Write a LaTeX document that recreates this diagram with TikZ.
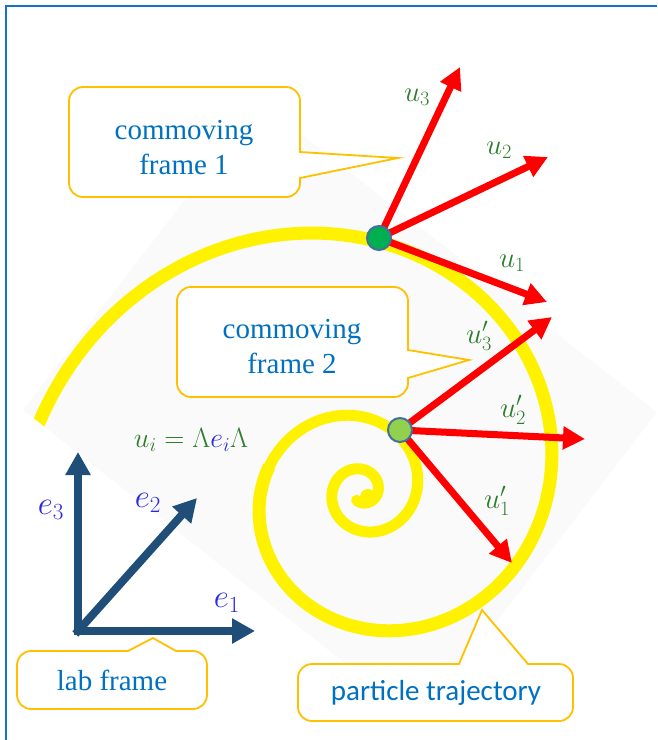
\RequirePackage{fix-cm}
\documentclass[tikz,border=0pt]{standalone}
\usepackage{fontspec}
\setmainfont{Liberation Serif}
\newfontfamily\calibri{Carlito}
\usetikzlibrary{arrows.meta}
\definecolor{callline}{RGB}{255,192,0}
\definecolor{calltext}{RGB}{0,112,192}
\definecolor{labblue}{RGB}{31,78,121}
\definecolor{eblue}{RGB}{40,40,225}
\definecolor{ugreen}{RGB}{45,125,45}
\definecolor{dotone}{RGB}{0,176,80}
\definecolor{dottwo}{RGB}{146,208,80}
\definecolor{dotrim}{RGB}{65,113,156}
\definecolor{pageblue}{RGB}{20,115,200}
\begin{document}
\begin{tikzpicture}[x=1pt,y=-1pt,
    callout/.style={draw=callline,line width=1.8pt,fill=white},
    calltxt/.style={text=calltext,align=center,font=\fontsize{29}{35}\selectfont},
    uarrow/.style={draw=red,line width=7pt,-{Triangle[length=22pt,width=22pt]}},
    earrow/.style={draw=labblue,line width=8pt,line cap=rect,-{Triangle[length=23pt,width=24pt]}},
    ulabel/.style={text=ugreen,font=\fontsize{29}{30}\selectfont},
    elabel/.style={text=eblue,font=\fontsize{33}{34}\selectfont},
    spiral/.style={draw=yellow,line width=13pt},
    framedot/.style={circle,draw=dotrim,line width=2pt,minimum size=24pt,inner sep=0pt}]
  \useasboundingbox (0,0) rectangle (657,740);
  % faint backdrop and page frame
  \fill[black!2] (260,102) -- (657,412) -- (420,722) -- (23,410) -- cycle;
  \draw[pageblue,line width=2.5pt] (657,6) -- (6,6) -- (6,740);
  % particle trajectory
  \begin{scope}
    \clip (-175,254) -- (817,1034) -- (817,-100) -- (-175,-100) -- cycle;
    \draw[spiral] plot[domain=176:-195,samples=120,smooth]
      ({362+330*exp(0.0034*(\x-168))*cos(\x)},{491-330*exp(0.0034*(\x-168))*sin(\x)});
    \draw[spiral,line width=11pt,line cap=round] plot[domain=-190:-840,samples=200,smooth]
      ({362+330*exp(0.0034*(\x-168))*cos(\x)},{491-330*exp(0.0034*(\x-168))*sin(\x)});
    \fill[yellow] (368,497) circle (8);
  \end{scope}
  % callouts
  \draw[callout] (69,142) [rounded corners=14pt] -- (69,87) -- (300,87)
    [sharp corners] -- (300,152) -- (398,158) -- (300,178)
    [rounded corners=14pt] -- (300,197) -- (69,197) -- cycle;
  \node[calltxt] (cm1) at (184,148) {commoving\\frame 1};
  \draw[callout] (177,342) [rounded corners=14pt] -- (177,287) -- (408,287)
    [sharp corners] -- (408,350) -- (469,360) -- (408,378)
    [rounded corners=14pt] -- (408,397) -- (177,397) -- cycle;
  \node[calltxt] (cm2) at (292,347) {commoving\\frame 2};
  \draw[callout] (17,680) [rounded corners=14pt] -- (17,651)
    [sharp corners] -- (128,651) -- (153,638) -- (176,651)
    [rounded corners=14pt] -- (207,651) -- (207,709) -- (17,709) -- cycle;
  \node[calltxt] (lab) at (112,680) {lab frame};
  \draw[callout] (298,692) [rounded corners=14pt] -- (298,664)
    [sharp corners] -- (459,664) -- (482,610) -- (528,664)
    [rounded corners=14pt] -- (573,664) -- (573,721) -- (298,721) -- cycle;
  \node[calltxt,font=\calibri\fontsize{29}{35}\selectfont] (traj) at (436,693) {particle trajectory};
  % commoving frame 1
  \coordinate (O1) at (379,238);
  \coordinate (u1end) at (547,302);
  \coordinate (u2end) at (548,157);
  \coordinate (u3end) at (460,67);
  \draw[uarrow] (O1) -- (u1end);
  \draw[uarrow] (O1) -- (u2end);
  \draw[uarrow] (O1) -- (u3end);
  \node[framedot,fill=dotone] (f1) at (O1) {};
  \node[ulabel] (lu1) at (512,263) {$u_1$};
  \node[ulabel] (lu2) at (499,150) {$u_2$};
  \node[ulabel] (lu3) at (417,97) {$u_3$};
  % commoving frame 2
  \coordinate (O2) at (400,430);
  \coordinate (v1end) at (512,563);
  \coordinate (v2end) at (585,439);
  \coordinate (v3end) at (552,317);
  \draw[uarrow] (O2) -- (v1end);
  \draw[uarrow] (O2) -- (v2end);
  \draw[uarrow] (O2) -- (v3end);
  \node[framedot,fill=dottwo] (f2) at (O2) {};
  \node[ulabel] (lv1) at (497,501) {$u'_1$};
  \node[ulabel] (lv2) at (513,410) {$u'_2$};
  \node[ulabel] (lv3) at (479,336) {$u'_3$};
  % lab frame
  \coordinate (L) at (78,631);
  \coordinate (e1end) at (255,631);
  \coordinate (e2end) at (197,498);
  \coordinate (e3end) at (78,452);
  \draw[earrow] (L) -- (e1end);
  \draw[earrow] (L) -- (e2end);
  \draw[earrow] (L) -- (e3end);
  \node[elabel] (le1) at (227,603) {$e_1$};
  \node[elabel] (le2) at (148,503) {$e_2$};
  \node[elabel] (le3) at (51,510) {$e_3$};
  \node[ulabel,font=\fontsize{28}{30}\selectfont] (law) at (191,440)
    {$u_i=\Lambda\textcolor{eblue}{e_i}\Lambda$};
\end{tikzpicture}
\end{document}
